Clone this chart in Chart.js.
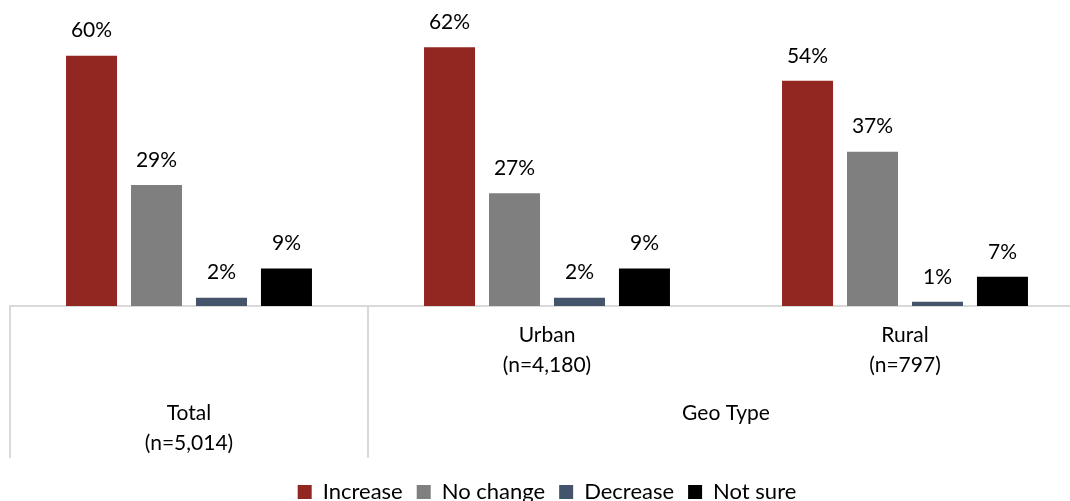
<!DOCTYPE html>
<html>
<head>
<meta charset="utf-8">
<script src="https://cdn.jsdelivr.net/npm/chart.js@4.4.0/dist/chart.umd.min.js"></script>
<style>
    html, body { margin: 0; padding: 0; background: #fff; overflow: hidden; }
    #wrap { width: 1070px; height: 501px; overflow: hidden; }
    #chart { width: 1100px; height: 501px; }
</style>
</head>
<body>
<div id="wrap"><canvas id="chart" width="1100" height="501"></canvas></div>
<script>
// categories along the x axis, with their sample sizes
var categories = ['Total', 'Urban', 'Rural'];
var sampleSizes = ['(n=5,014)', '(n=4,180)', '(n=797)'];
var groupLabel = 'Geo Type'; // spans Urban + Rural

// share of respondents (%)
var increase = [60, 62, 54];
var noChange = [29, 27, 37];
var decrease = [2, 2, 1];
var notSure = [9, 9, 7];

var FONT = 'Lato, "Open Sans", sans-serif';
var TEXT = '#000';
var LINE = '#d9d9d9';

function dataset(label, data, color) {
    return {
        label: label,
        data: data,
        backgroundColor: color,
        borderWidth: 0,
        categoryPercentage: 0.726,
        barPercentage: 0.785
    };
}

// value labels above every bar
var valueLabels = {
    id: 'valueLabels',
    afterDatasetsDraw: function (chart) {
        var ctx = chart.ctx;
        ctx.save();
        ctx.font = '21px ' + FONT;
        ctx.fillStyle = TEXT;
        ctx.textAlign = 'center';
        ctx.textBaseline = 'middle';
        chart.data.datasets.forEach(function (ds, i) {
            chart.getDatasetMeta(i).data.forEach(function (bar, j) {
                ctx.fillText(ds.data[j] + '%', bar.x, bar.y - 25);
            });
        });
        ctx.restore();
    }
};

// two-level category labels under the axis
var axisLabels = {
    id: 'axisLabels',
    afterDraw: function (chart) {
        var ctx = chart.ctx;
        var x = chart.scales.x;
        var base = x.top;
        ctx.save();
        ctx.font = '21px ' + FONT;
        ctx.fillStyle = TEXT;
        ctx.textAlign = 'center';
        ctx.textBaseline = 'middle';
        categories.forEach(function (cat, i) {
            var cx = x.getPixelForValue(i);
            var y = i === 0 ? base + 107 : base + 29;
            ctx.fillText(cat, cx, y);
            ctx.fillText(sampleSizes[i], cx, y + 30.5);
        });
        var gx = (x.getPixelForValue(1) + x.getPixelForValue(2)) / 2;
        ctx.fillText(groupLabel, gx, base + 107);
        ctx.restore();
    }
};

new Chart(document.getElementById('chart'), {
    type: 'bar',
    data: {
        labels: categories,
        datasets: [
            dataset('Increase', increase, '#922620'),
            dataset('No change', noChange, '#7f7f7f'),
            dataset('Decrease', decrease, '#44546a'),
            dataset('Not sure', notSure, '#000000')
        ]
    },
    options: {
        responsive: false,
        animation: false,
        layout: { padding: { left: 10, right: 16, top: 14, bottom: -12 } },
        scales: {
            x: {
                grid: {
                    offset: true,
                    drawOnChartArea: false,
                    drawTicks: true,
                    tickLength: 152,
                    lineWidth: 2,
                    color: function (c) { return c.index <= 1 ? LINE : 'rgba(0,0,0,0)'; }
                },
                border: { display: true, color: LINE, width: 2 },
                ticks: { display: false },
                afterFit: function (scale) { scale.height = 161; }
            },
            y: {
                display: false,
                min: 0,
                max: 70
            }
        },
        plugins: {
            legend: {
                position: 'bottom',
                labels: {
                    font: { family: FONT, size: 22 },
                    color: TEXT,
                    boxWidth: 14,
                    boxHeight: 14,
                    padding: 14
                }
            },
            tooltip: { enabled: false }
        }
    },
    plugins: [valueLabels, axisLabels]
});
</script>
</body>
</html>
